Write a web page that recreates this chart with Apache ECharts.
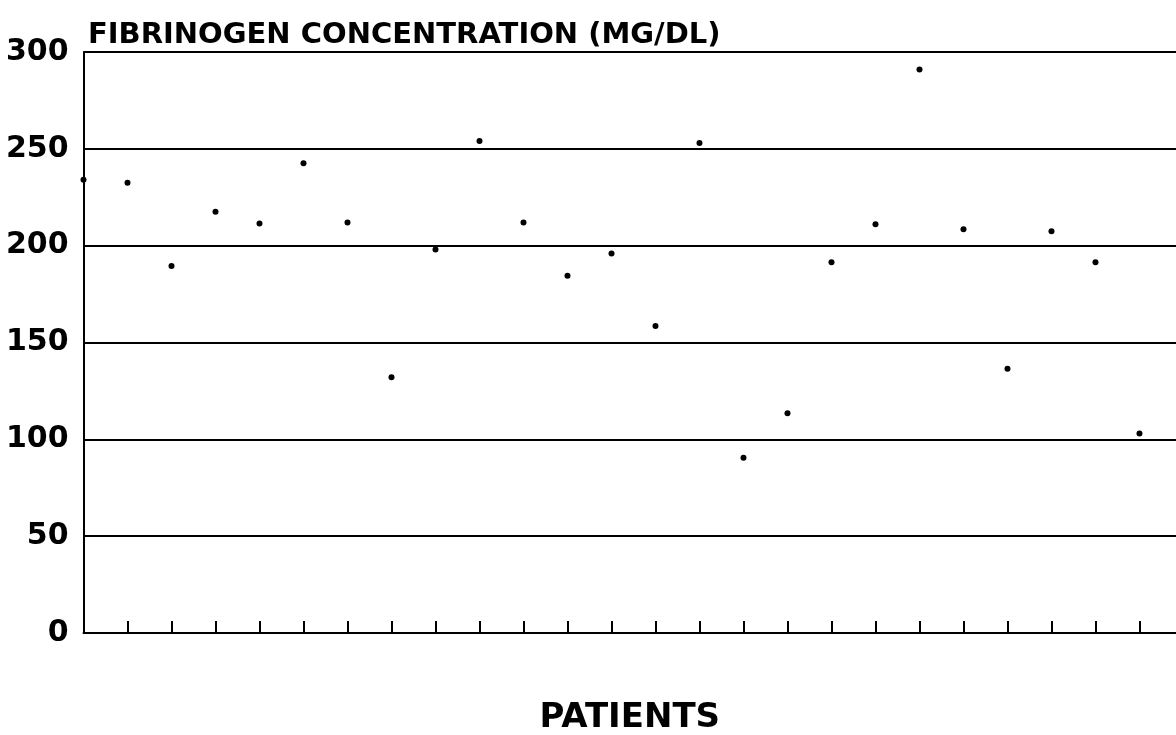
<!DOCTYPE html>
<html>
<head>
<meta charset="utf-8">
<script src="https://cdn.jsdelivr.net/npm/echarts@6/dist/echarts.min.js"></script>
<style>
html,body{margin:0;padding:0;background:#fff;}
#chart{width:1176px;height:735px;}
</style>
</head>
<body>
<div id="chart"></div>
<script>
// Patient positions (index along x axis)
var patients = [0,1,2,3,4,5,6,7,8,9,10,11,12,13,14,15,16,17,18,19,20,21,22,23,24];
// Fibrinogen concentration (mg/dL)
var fibrinogen = [234,232.5,189.5,217.5,211.5,242.5,212,132,198,254,212,184.5,196,158.5,253,90.5,113.5,191.5,211,291,208.5,136.5,207.5,191.5,103];
var yTicks = [0,50,100,150,200,250,300];
var xTickPositions = [1,2,3,4,5,6,7,8,9,10,11,12,13,14,15,16,17,18,19,20,21,22,23,24];
var titleText = 'FIBRINOGEN CONCENTRATION (MG/DL)';
var xName = 'PATIENTS';

var chart = echarts.init(document.getElementById('chart'), null, {renderer:'canvas'});
var font = '"DejaVu Sans", "Liberation Sans", Arial, sans-serif';
var data = patients.map(function(p,i){return [p, fibrinogen[i]];});
chart.setOption({
  backgroundColor:'#ffffff',
  animation:false,
  title:{
    text:titleText,
    left:83, top:16,
    textStyle:{fontFamily:font, fontWeight:'bold', fontSize:29, color:'#000'}
  },
  grid:{left:83.5, right:0, top:52, bottom:102, containLabel:false, outerBoundsMode:'none'},
  xAxis:{
    type:'value', min:0, max:24.83, interval:1,
    name:xName, nameLocation:'middle', nameGap:68,
    nameTextStyle:{fontFamily:font, fontWeight:'bold', fontSize:34, color:'#000'},
    axisLine:{show:true, onZero:false, lineStyle:{color:'#000', width:2}},
    axisTick:{show:true, inside:true, length:12, customValues:xTickPositions, lineStyle:{color:'#000', width:2}},
    axisLabel:{show:false},
    splitLine:{show:false}
  },
  yAxis:{
    type:'value', min:0, max:300, interval:50,
    axisLine:{show:true, lineStyle:{color:'#000', width:2}},
    axisTick:{show:false},
    axisLabel:{
      show:true, margin:15, customValues:yTicks,
      fontFamily:font, fontWeight:'bold', fontSize:30, color:'#000'
    },
    splitLine:{show:true, showMinLine:false, lineStyle:{color:'#000', width:2}}
  },
  series:[{
    type:'scatter',
    data:data,
    symbol:'circle',
    symbolSize:6,
    itemStyle:{color:'#000', opacity:1},
    clip:false
  }]
});
</script>
</body>
</html>
